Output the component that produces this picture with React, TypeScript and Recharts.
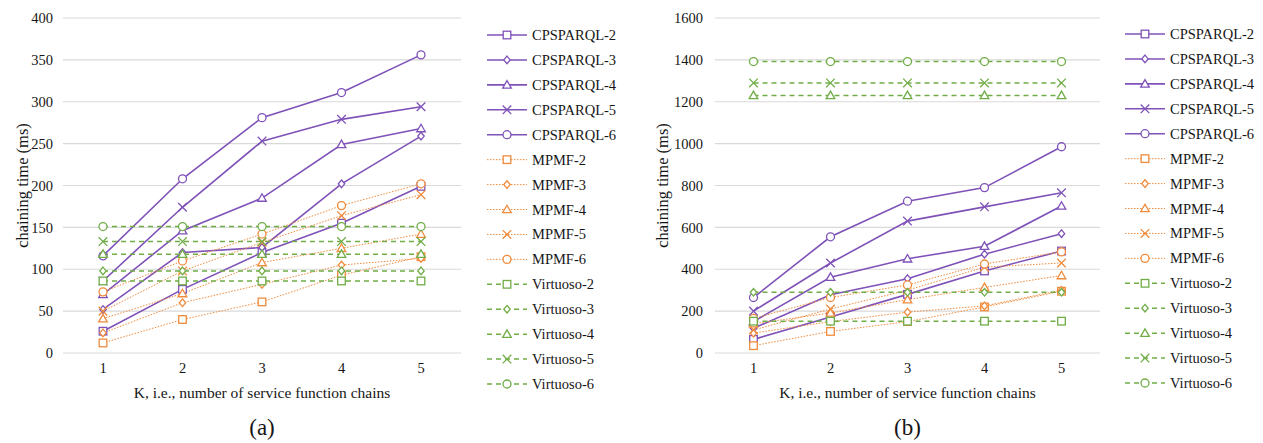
import React from 'react';
import { LineChart, Line, XAxis, YAxis, CartesianGrid } from 'recharts';

const K_VALUES = ['1', '2', '3', '4', '5'];
const SIZES = [2, 3, 4, 5, 6];
const SHAPES = ['square', 'diamond', 'triangle', 'cross', 'circle'];

// (a) chaining time (ms), one row per size 2..6
const cpsparqlA = [
  [26, 76, 120, 155, 199],
  [52, 120, 126, 202, 259],
  [70, 146, 185, 249, 268],
  [86, 174, 253, 279, 294],
  [116, 208, 281, 311, 356],
];
const mpmfA = [
  [12, 40, 61, 93, 115],
  [24, 60, 82, 105, 113],
  [41, 71, 108, 125, 142],
  [50, 98, 132, 164, 189],
  [73, 110, 142, 176, 202],
];
const virtuosoA = [
  [86, 86, 86, 86, 86],
  [98, 98, 98, 98, 98],
  [118, 118, 118, 118, 118],
  [133, 133, 133, 133, 133],
  [151, 151, 151, 151, 151],
];

// (b)
const cpsparqlB = [
  [65, 172, 280, 392, 487],
  [118, 278, 355, 472, 570],
  [150, 362, 450, 510, 702],
  [200, 430, 630, 698, 765],
  [265, 555, 725, 790, 985],
];
const mpmfB = [
  [35, 103, 150, 220, 295],
  [95, 150, 195, 225, 300],
  [140, 191, 255, 313, 370],
  [110, 210, 300, 410, 430],
  [165, 265, 325, 425, 483],
];
const virtuosoB = [
  [152, 152, 152, 152, 152],
  [290, 290, 290, 290, 290],
  [1230, 1230, 1230, 1230, 1230],
  [1290, 1290, 1290, 1290, 1290],
  [1392, 1392, 1392, 1392, 1392],
];

const TICKS_A = [0, 50, 100, 150, 200, 250, 300, 350, 400];
const TICKS_B = [0, 200, 400, 600, 800, 1000, 1200, 1400, 1600];

const METHODS = [
  { name: 'CPSPARQL', color: '#7F52B8', dash: undefined, width: 1.6 },
  { name: 'MPMF', color: '#F08B3C', dash: '1.5 1.5', width: 1 },
  { name: 'Virtuoso', color: '#70AD47', dash: '5 4', width: 1.5 },
];

const FONT = '"Liberation Serif", "Times New Roman", serif';
const INK = '#161616';

function buildSeries(groups: number[][][]) {
  const out: any[] = [];
  METHODS.forEach((m, mi) => {
    SIZES.forEach((s, si) => {
      out.push({ ...m, name: `${m.name}-${s}`, shape: SHAPES[si], values: groups[mi][si] });
    });
  });
  return out;
}

const seriesA = buildSeries([cpsparqlA, mpmfA, virtuosoA]);
const seriesB = buildSeries([cpsparqlB, mpmfB, virtuosoB]);

function toRows(series: any[]) {
  return K_VALUES.map((k, i) => {
    const row: any = { k };
    series.forEach((s) => (row[s.name] = s.values[i]));
    return row;
  });
}

function Marker({ shape, x, y, color }: { shape: string; x: number; y: number; color: string }) {
  const sw = 1.3;
  switch (shape) {
    case 'square':
      return <rect x={x - 3.8} y={y - 3.8} width={7.6} height={7.6} fill="#fff" stroke={color} strokeWidth={sw} />;
    case 'diamond':
      return (
        <polygon
          points={`${x},${y - 3.8} ${x + 3.2},${y} ${x},${y + 3.8} ${x - 3.2},${y}`}
          fill="#fff"
          stroke={color}
          strokeWidth={sw}
        />
      );
    case 'triangle':
      return (
        <polygon
          points={`${x},${y - 4.3} ${x + 4.3},${y + 3.2} ${x - 4.3},${y + 3.2}`}
          fill="#fff"
          stroke={color}
          strokeWidth={sw}
        />
      );
    case 'cross':
      return (
        <path
          d={`M${x - 4.3},${y - 4.3}L${x + 4.3},${y + 4.3}M${x + 4.3},${y - 4.3}L${x - 4.3},${y + 4.3}`}
          fill="none"
          stroke={color}
          strokeWidth={sw}
        />
      );
    default:
      return <circle cx={x} cy={y} r={4} fill="#fff" stroke={color} strokeWidth={sw} />;
  }
}

function Panel({ series, ticks, yWidth, width, padding }: any) {
  const data = toRows(series);
  return (
    <LineChart width={width} height={400} data={data} margin={{ top: 18, right: 9, left: 0, bottom: 0 }}>
      <CartesianGrid vertical={false} stroke="#D9D9D9" strokeWidth={1.2} />
      <XAxis
        dataKey="k"
        height={47}
        tickLine={false}
        axisLine={false}
        tickMargin={4}
        padding={{ left: padding, right: padding }}
        tick={{ fill: INK, fontSize: 14.5 }}
        label={{ value: 'K, i.e., number of service function chains', position: 'insideBottom', offset: 2, fill: INK, fontSize: 15.5 }}
      />
      <YAxis
        width={yWidth}
        domain={[0, ticks[ticks.length - 1]]}
        ticks={ticks}
        interval={0}
        tickLine={false}
        axisLine={false}
        tickMargin={yWidth > 70 ? 6 : 4}
        tick={{ fill: INK, fontSize: 14.5 }}
        label={{
          value: 'chaining time (ms)',
          angle: -90,
          position: 'insideLeft',
          offset: 22,
          fill: INK,
          fontSize: 16.5,
          style: { textAnchor: 'middle' },
        }}
      />
      {series.map((s: any) => (
        <Line
          key={s.name}
          type="linear"
          dataKey={s.name}
          stroke={s.color}
          strokeWidth={s.width}
          strokeDasharray={s.dash}
          isAnimationActive={false}
          dot={(p: any) => <Marker key={`${s.name}-${p.index}`} shape={s.shape} x={p.cx} y={p.cy} color={s.color} />}
          activeDot={false}
        />
      ))}
    </LineChart>
  );
}

function SeriesLegend({ series, left, top }: any) {
  const step = 24.93;
  return (
    <svg width={150} height={400} style={{ position: 'absolute', left, top: top - 12 }}>
      {series.map((s: any, i: number) => {
        const y = 12 + i * step;
        return (
          <g key={s.name}>
            <line x1={0} y1={y} x2={40} y2={y} stroke={s.color} strokeWidth={s.width} strokeDasharray={s.dash} />
            <Marker shape={s.shape} x={20} y={y} color={s.color} />
            <text x={45} y={y} dominantBaseline="central" fontSize={14.5} fill={INK} fontFamily={FONT}>
              {s.name}
            </text>
          </g>
        );
      })}
    </svg>
  );
}

export default function App() {
  return (
    <div
      style={{
        position: 'absolute',
        left: 0,
        top: 0,
        width: 1263,
        height: 443,
        background: '#fff',
        fontFamily: FONT,
        overflow: 'hidden',
      }}
    >
      <div style={{ position: 'absolute', left: 0, top: 0 }}>
        <Panel series={seriesA} ticks={TICKS_A} yWidth={63} width={470} padding={40} />
      </div>
      <SeriesLegend series={seriesA} left={487} top={35} />
      <div style={{ position: 'absolute', left: 63, top: 414, width: 398, textAlign: 'center', fontSize: 23, lineHeight: '28px', color: INK }}>
        (a)
      </div>

      <div style={{ position: 'absolute', left: 640, top: 0 }}>
        <Panel series={seriesB} ticks={TICKS_B} yWidth={75} width={469} padding={38.5} />
      </div>
      <SeriesLegend series={seriesB} left={1125} top={34} />
      <div style={{ position: 'absolute', left: 715, top: 414, width: 385, textAlign: 'center', fontSize: 23, lineHeight: '28px', color: INK }}>
        (b)
      </div>
    </div>
  );
}
